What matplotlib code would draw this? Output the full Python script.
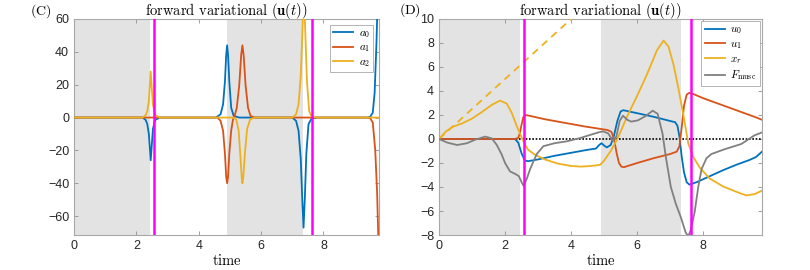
import matplotlib
matplotlib.use("Agg")
import matplotlib.pyplot as plt

plt.rcParams['mathtext.fontset'] = 'cm'
plt.rcParams['font.family'] = ['Liberation Sans', 'DejaVu Sans']

# ---------------- data ----------------
shade_start = [0.0, 4.89]
shade_end = [2.45, 7.33]
event_times = [2.56, 7.63]

# Panel C
a0_t = [0, 2.2, 2.3, 2.35, 2.4, 2.43, 2.46, 2.49, 2.53, 2.6, 2.75,
        4.55, 4.7, 4.78, 4.84, 4.88, 4.91, 4.94, 4.98, 5.04, 5.12, 5.3,
        7.0, 7.12, 7.2, 7.27, 7.32, 7.36, 7.40, 7.45, 7.52, 7.62, 7.8,
        9.4, 9.5, 9.58, 9.64, 9.7, 9.74]
a0_v = [0, 0, -1.5, -4, -10, -18, -26, -18, -7, -1.5, 0,
        0, 2, 8, 22, 38, 44, 38, 22, 6, 1, 0,
        0, -2, -8, -25, -50, -67, -50, -22, -4, -0.5, 0,
        0, 0.5, 3, 15, 46, 75]
a1_t = [0, 4.6, 4.7, 4.78, 4.84, 4.88, 4.91, 4.94, 4.98, 5.04, 5.1,
        5.15, 5.22, 5.3, 5.36, 5.40, 5.44, 5.5, 5.58, 5.66, 5.8,
        9.4, 9.5, 9.58, 9.66, 9.72, 9.76]
a1_v = [0, 0, -2, -8, -22, -36, -40, -36, -22, -8, -1,
        1, 6, 20, 38, 44, 38, 20, 6, 1, 0,
        0, -0.5, -3, -20, -46, -75]
a2_t = [0, 2.2, 2.3, 2.35, 2.4, 2.43, 2.46, 2.49, 2.53, 2.6, 2.75,
        5.1, 5.2, 5.28, 5.34, 5.38, 5.40, 5.43, 5.48, 5.55, 5.65, 5.8,
        7.0, 7.12, 7.2, 7.27, 7.32, 7.37, 7.42, 7.47, 7.54, 7.62, 7.8, 9.78]
a2_v = [0, 0, 1.5, 4, 10, 19, 28, 19, 8, 1.5, 0,
        0, -1, -8, -25, -37, -40, -36, -22, -7, -1, 0,
        0, 2, 8, 25, 50, 78, 50, 22, 4, 0.5, 0, 0]

# Panel D
u0_t = [0, 2.3, 2.4, 2.5, 2.6, 2.7, 3.0, 3.5, 4.0, 4.5, 4.75, 4.85, 4.92,
        5.0, 5.08, 5.2, 5.3, 5.4, 5.5, 5.58, 6.0, 6.5, 7.0, 7.15, 7.22,
        7.28, 7.35, 7.42, 7.5, 7.58, 7.8, 8.2, 8.6, 9.0, 9.4, 9.6, 9.78]
u0_v = [0, 0, -0.3, -1.2, -1.8, -1.85, -1.7, -1.4, -1.15, -0.9, -0.8, -0.5, -0.35,
        -0.55, -0.7, -0.5, 0.3, 1.5, 2.3, 2.4, 2.15, 1.85, 1.5, 1.4, 1.1,
        0.2, -1.5, -2.8, -3.6, -3.8, -3.6, -3.1, -2.6, -2.15, -1.75, -1.5, -1.05]
u1_t = [0, 2.3, 2.4, 2.45, 2.5, 2.55, 2.62, 2.8, 3.2, 3.6, 4.0, 4.4, 4.8, 5.1,
        5.22, 5.3, 5.38, 5.45, 5.52, 5.6, 6.0, 6.5, 7.0, 7.2, 7.28, 7.35,
        7.42, 7.5, 7.58, 7.7, 8.0, 8.4, 8.8, 9.2, 9.6, 9.78]
u1_v = [0, 0, 0.1, 0.5, 1.2, 1.8, 2.0, 1.9, 1.65, 1.45, 1.25, 1.05, 0.88, 0.75,
        0.6, 0.0, -1.2, -2.0, -2.3, -2.35, -2.0, -1.6, -1.25, -1.05, -0.6, 1.0,
        2.8, 3.7, 3.85, 3.75, 3.4, 3.0, 2.6, 2.2, 1.8, 1.6]
xr_t = [0, 0.2, 0.4, 0.7, 1.0, 1.3, 1.6, 1.85, 2.05, 2.2, 2.35, 2.5, 2.6, 2.7,
        2.9, 3.2, 3.6, 4.0, 4.3, 4.6, 4.88, 5.0, 5.2, 5.4, 5.7, 6.0, 6.3,
        6.6, 6.8, 6.95, 7.1, 7.25, 7.4, 7.55, 7.7, 7.9, 8.2, 8.6, 9.0, 9.3,
        9.55, 9.78]
xr_v = [0, 0.6, 1.0, 1.3, 1.7, 2.25, 2.85, 3.2, 2.95, 2.2, 1.1, 0.15, -0.45, -0.9,
        -1.3, -1.7, -2.05, -2.25, -2.3, -2.25, -2.15, -1.8, -1.0, 0.0, 1.9, 3.6, 5.4,
        7.4, 8.2, 7.7, 6.2, 4.2, 2.0, -0.4, -1.5, -2.4, -3.3, -3.95, -4.4, -4.7,
        -4.6, -4.3]
xr_ref_t = [0, 4.0]
xr_ref_v = [0, 10]
fm_t = [0, 0.25, 0.55, 0.85, 1.1, 1.4, 1.6, 1.75, 1.9, 2.0, 2.15, 2.3, 2.42, 2.5,
        2.56, 2.66, 2.76, 2.96, 3.16, 3.5, 3.86, 4.3, 4.67, 4.87, 4.97, 5.12,
        5.27, 5.37, 5.47, 5.57, 5.7, 5.82, 6.02, 6.25, 6.47, 6.62, 6.77, 6.87,
        7.02, 7.17, 7.32, 7.47, 7.55, 7.62, 7.74, 7.85, 7.95, 8.1, 8.25, 8.65,
        9.15, 9.55, 9.78]
fm_v = [0, -0.3, -0.5, -0.35, -0.05, 0.2, 0.05, -0.5, -1.3, -2.0, -2.7, -2.9, -3.1, -3.6,
        -3.9, -3.3, -2.5, -1.25, -0.6, -0.35, -0.2, 0.1, 0.42, 0.58, 0.64, 0.47,
        -0.14, 0.2, 1.5, 1.94, 1.6, 1.45, 1.55, 1.9, 2.36, 2.1, 0.42, -1.53,
        -4.0, -5.4, -6.5, -7.8, -8.1, -7.6, -6.1, -4.0, -2.5, -1.6, -1.25, -0.85,
        -0.42, 0.3, 0.55]

xticks = [0, 2, 4, 6, 8]
yticks_c = [-60, -40, -20, 0, 20, 40, 60]
yticks_d = [-8, -6, -4, -2, 0, 2, 4, 6, 8, 10]

# ---------------- style ----------------
C_BLUE = '#0072BD'
C_RED = '#D95319'
C_YEL = '#EDB120'
C_GRAY = '#808080'
SHADE = '#e3e3e3'
MAG = '#ff00ff'
TITLE = r'$\mathrm{forward\ variational\ }(\mathbf{u}(t))$'

fig = plt.figure(figsize=(8.1, 2.7), dpi=100)
axC = fig.add_axes([74/810, 1-235/270, (379-74)/810, (235-19)/270])
axD = fig.add_axes([439/810, 1-235/270, (762-439)/810, (235-19)/270])


def style(ax, xlim, ylim, yticks):
    for s0, s1 in zip(shade_start, shade_end):
        ax.axvspan(s0, s1, color=SHADE, lw=0, zorder=0)
    for et in event_times:
        ax.axvline(et, color=MAG, lw=1.8, zorder=4)
    ax.set_xlim(*xlim)
    ax.set_ylim(*ylim)
    ax.set_xticks(xticks)
    ax.set_yticks(yticks)
    ax.tick_params(direction='in', top=True, right=True, labelsize=9,
                   length=3, width=0.6, color='#909090', labelcolor='#262626')
    for sp in ax.spines.values():
        sp.set_color('#a8a8a8')
        sp.set_linewidth(0.8)
    ax.set_title(TITLE, fontsize=10.5, pad=3)
    ax.set_xlabel(r'$\mathrm{time}$', fontsize=10.5, labelpad=1)


style(axC, (0, 9.78), (-71.5, 60), yticks_c)
axC.plot(a0_t, a0_v, color=C_BLUE, lw=1.3, label=r'$a_0$', zorder=3)
axC.plot(a1_t, a1_v, color=C_RED, lw=1.3, label=r'$a_1$', zorder=3)
axC.plot(a2_t, a2_v, color=C_YEL, lw=1.3, label=r'$a_2$', zorder=3)
legC = axC.legend(loc='upper right', fontsize=8, handlelength=1.8, borderaxespad=0.5,
                  fancybox=False, framealpha=1, edgecolor='#a8a8a8',
                  labelspacing=0.25, borderpad=0.3, handletextpad=0.5)
legC.get_frame().set_linewidth(0.6)

style(axD, (0, 9.78), (-8, 10), yticks_d)
axD.axhline(0, color='black', lw=1.2, ls=(0, (1, 1)), zorder=2)
axD.plot(xr_ref_t, xr_ref_v, color=C_YEL, lw=1.3, ls=(0, (4, 3)), zorder=3)
axD.plot(u0_t, u0_v, color=C_BLUE, lw=1.3, label=r'$u_0$', zorder=3)
axD.plot(u1_t, u1_v, color=C_RED, lw=1.3, label=r'$u_1$', zorder=3)
axD.plot(xr_t, xr_v, color=C_YEL, lw=1.3, label=r'$x_r$', zorder=3)
axD.plot(fm_t, fm_v, color=C_GRAY, lw=1.3, label=r'$F_{\mathrm{musc}}$', zorder=3)
legD = axD.legend(loc='upper right', fontsize=8, handlelength=1.8, borderaxespad=0.2,
                  fancybox=False, framealpha=1, edgecolor='#a8a8a8',
                  labelspacing=0.25, borderpad=0.3, handletextpad=0.5)
legD.get_frame().set_linewidth(0.6)

fig.text(30/810, 1-11/270, r'$\mathrm{(C)}$', fontsize=10, va='center', ha='left')
fig.text(399/810, 1-10/270, r'$\mathrm{(D)}$', fontsize=10, va='center', ha='left')

fig.savefig('out.png', dpi=100)
